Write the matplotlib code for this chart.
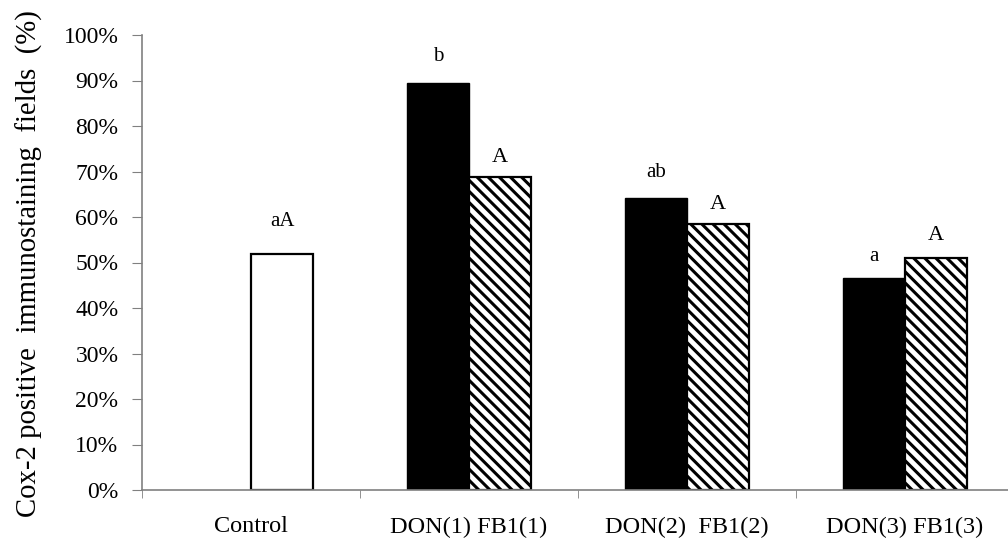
import matplotlib
matplotlib.use("Agg")
import matplotlib.pyplot as plt
from matplotlib.ticker import PercentFormatter, FixedLocator
import numpy as np

categories = ["Control", "DON(1) FB1(1)", "DON(2)  FB1(2)", "DON(3) FB1(3)"]
control_value = [51.9]
don_values = [89.4, 64.2, 46.5]
fb1_values = [68.9, 58.5, 50.9]
control_letters = ["aA"]
don_letters = ["b", "ab", "a"]
fb1_letters = ["A", "A", "A"]

# label offsets (points above bar top) - styling only
control_off = [23]
don_off = [19, 18, 16]
fb1_off = [14, 14, 16.5]

plt.rcParams['font.family'] = ['Liberation Serif', 'DejaVu Serif']
plt.rcParams['hatch.linewidth'] = 2.2

fig = plt.figure(figsize=(10.08, 5.43), dpi=100)
ax = fig.add_axes([142/1008, 1-490/543, (1014-142)/1008, 455/543])

w = 0.285
x = np.arange(len(categories))
ax.bar(x[0] + w/2, control_value, w, color='white', edgecolor='black', linewidth=1.6)
ax.bar(x[1:] - w/2, don_values, w, color='black', edgecolor='black', linewidth=1.0)
ax.bar(x[1:] + w/2, fb1_values, w, color='white', edgecolor='black', linewidth=1.6, hatch='\\\\\\')

for xi, v, t, o in zip([x[0] + w/2], control_value, control_letters, control_off):
    ax.annotate(t, (xi, v), xytext=(0, o), textcoords='offset points', ha='center', va='center', fontsize=15)
for xi, v, t, o in zip(x[1:] - w/2, don_values, don_letters, don_off):
    ax.annotate(t, (xi, v), xytext=(0, o), textcoords='offset points', ha='center', va='center', fontsize=15)
for xi, v, t, o in zip(x[1:] + w/2, fb1_values, fb1_letters, fb1_off):
    ax.annotate(t, (xi, v), xytext=(0, o), textcoords='offset points', ha='center', va='center', fontsize=16)

ax.set_ylim(0, 100)
ax.set_xlim(-0.5, 3.5)
ax.set_yticks(np.arange(0, 101, 10))
ax.yaxis.set_major_formatter(PercentFormatter(decimals=0))
ax.set_xticks(x)
ax.set_xticklabels(categories, fontsize=17.5)
ax.xaxis.set_minor_locator(FixedLocator(np.arange(-0.5, 3.6, 1)))
ax.tick_params(axis='x', which='major', length=0, pad=19)
ax.tick_params(axis='x', which='minor', length=6, color='#808080', direction='out')
ax.tick_params(axis='y', length=7, color='#808080', labelsize=17, pad=10)

for s in ['top', 'right']:
    ax.spines[s].set_visible(False)
for s in ['left', 'bottom']:
    ax.spines[s].set_color('#808080')
    ax.spines[s].set_linewidth(1.2)

ax.set_ylabel("Cox-2 positive  immunostaining  fields  (%)", fontsize=20.7)
ax.yaxis.set_label_coords(43/1008, 1-264/543, transform=fig.transFigure)

fig.savefig("out.png", dpi=100)
